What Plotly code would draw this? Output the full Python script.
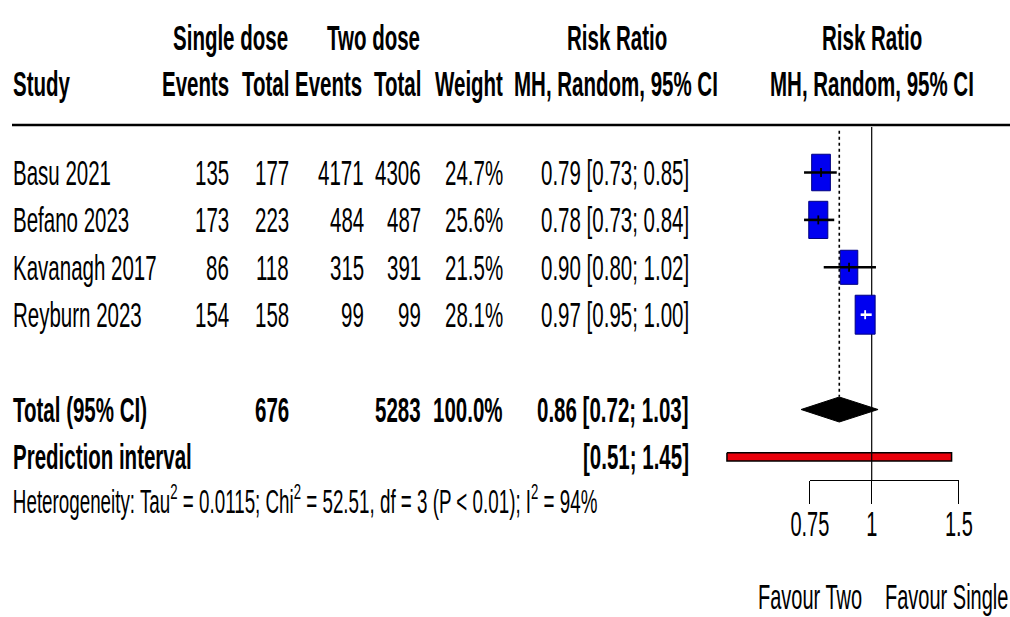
import math
import plotly.graph_objects as go

# ---------------- data ----------------
studies = ["Basu 2021", "Befano 2023", "Kavanagh 2017", "Reyburn 2023"]
single_events = [135, 173, 86, 154]
single_total = [177, 223, 118, 158]
two_events = [4171, 484, 315, 99]
two_total = [4306, 487, 391, 99]
weights = [24.7, 25.6, 21.5, 28.1]
rr = [0.79, 0.78, 0.90, 0.97]
rr_lower = [0.73, 0.73, 0.80, 0.95]
rr_upper = [0.85, 0.84, 1.02, 1.00]

total_single = 676
total_two = 5283
total_weight = 100.0
pooled_rr = 0.86
pooled_lower = 0.72
pooled_upper = 1.03
pred_lower = 0.51
pred_upper = 1.45
tau2 = "0.0115"
chi2 = "52.51"
het_df = 3
het_p = "P &lt; 0.01"
i2 = 94

tick_vals = [0.75, 1, 1.5]
tick_text = ["0.75", "1", "1.5"]
label_left = "Favour Two"
label_right = "Favour Single"

# ---------------- layout constants ----------------
W, H = 1010, 617
FONT = "Liberation Sans, Arial, Helvetica, sans-serif"
FS = 20.5
STRETCH = 1.72
ROW_PX = 47.4
ROW1_PX = 172.5
X_ONE_PX = 871.7
PX_PER_LOG10 = 495.0
BOX_KW = 3.77   # px per sqrt(weight), width
BOX_KH = 7.35   # px per sqrt(weight), height


def row_of(px):
    return 1 + (px - ROW1_PX) / ROW_PX


def xp(px):
    return px / W


yrange = [row_of(H), row_of(0)]
xrange = [-X_ONE_PX / PX_PER_LOG10, (W - X_ONE_PX) / PX_PER_LOG10]

study_rows = [1, 2, 3, 4]
total_row = 6
pred_row = 7
het_row = row_of(499)
axis_row = row_of(480)

fig = go.Figure()
shapes = []

# ---------------- forest marks ----------------
# prediction interval bar
fig.add_trace(go.Scatter(
    x=[pred_lower, pred_upper, pred_upper, pred_lower, pred_lower],
    y=[pred_row - 0.085, pred_row - 0.085, pred_row + 0.085, pred_row + 0.085, pred_row - 0.085],
    mode="lines", fill="toself", fillcolor="#e8000b",
    line=dict(color="black", width=1.5), hoverinfo="skip", showlegend=False))
# reference line at 1
fig.add_trace(go.Scatter(x=[1, 1], y=[0.04, axis_row], mode="lines",
                         line=dict(color="black", width=1.2),
                         hoverinfo="skip", showlegend=False))
# dotted pooled-estimate line
fig.add_trace(go.Scatter(x=[pooled_rr, pooled_rr], y=[0.12, total_row - 0.27], mode="lines",
                         line=dict(color="black", width=1.6, dash="dot"),
                         hoverinfo="skip", showlegend=False))

# boxes: area proportional to weight, built on the log scale
for r, w, y in zip(rr, weights, study_rows):
    half_w = BOX_KW * math.sqrt(w) / 2 / PX_PER_LOG10   # in log10 units
    half_h = BOX_KH * math.sqrt(w) / 2 / ROW_PX          # in row units
    xl, xh = r * 10 ** (-half_w), r * 10 ** half_w
    fig.add_trace(go.Scatter(
        x=[xl, xh, xh, xl, xl], y=[y - half_h, y - half_h, y + half_h, y + half_h, y - half_h],
        mode="lines", fill="toself", fillcolor="#0000f0",
        line=dict(color="#000080", width=1), hoverinfo="skip", showlegend=False))

# whiskers and centre ticks (above the boxes)
for r, lo, hi, w, y in zip(rr, rr_lower, rr_upper, weights, study_rows):
    ci_px = PX_PER_LOG10 * (math.log10(hi) - math.log10(lo))
    inside = ci_px < BOX_KW * math.sqrt(w)
    col = "white" if inside else "black"
    shapes.append(dict(type="line", xref="x", yref="y", x0=lo, x1=hi, y0=y, y1=y,
                       line=dict(color=col, width=2.6), layer="above"))
    shapes.append(dict(type="line", xref="x", yref="y",
                       ysizemode="pixel", yanchor=y, y0=-4.5, y1=4.5,
                       x0=r, x1=r, line=dict(color=col, width=1.8), layer="above"))

# diamond
dh = 12.5 / ROW_PX
fig.add_trace(go.Scatter(
    x=[pooled_lower, pooled_rr, pooled_upper, pooled_rr, pooled_lower],
    y=[total_row, total_row - dh, total_row, total_row + dh, total_row],
    mode="lines", fill="toself", fillcolor="black",
    line=dict(color="black", width=1), hoverinfo="skip", showlegend=False))

# bottom axis carrier trace
fig.add_trace(go.Scatter(x=tick_vals, y=[axis_row] * len(tick_vals), xaxis="x2", yaxis="y",
                         mode="markers", marker=dict(opacity=0),
                         hoverinfo="skip", showlegend=False))

# header rule
shapes.append(dict(type="line", xref="paper", yref="y", x0=xp(12), x1=1, y0=0, y1=0,
                   line=dict(color="black", width=2.5), layer="below"))

# ---------------- text ----------------
def txt(s, x_px, row, anchor, bold=False, size=FS):
    fig.add_annotation(text=f"<b>{s}</b>" if bold else s,
                       x=xp(x_px), xref="paper", y=row, yref="y",
                       xanchor=anchor, yanchor="middle", showarrow=False,
                       font=dict(family=FONT, size=size, color="black"))

h1 = row_of(37)
h2 = row_of(83)
txt("Single dose", 290, h1, "right", True)
txt("Two dose", 422, h1, "right", True)
txt("Risk Ratio", 617, h1, "center", True)
txt("Risk Ratio", 872, h1, "center", True)
txt("Study", 11, h2, "left", True)
txt("Events", 231, h2, "right", True)
txt("Total", 291, h2, "right", True)
txt("Events", 364, h2, "right", True)
txt("Total", 423, h2, "right", True)
txt("Weight", 505, h2, "right", True)
txt("MH, Random, 95% CI", 616, h2, "center", True)
txt("MH, Random, 95% CI", 872, h2, "center", True)

for i, y in enumerate(study_rows):
    txt(studies[i], 11, y, "left")
    txt(str(single_events[i]), 231, y, "right")
    txt(str(single_total[i]), 291, y, "right")
    txt(str(two_events[i]), 366, y, "right")
    txt(str(two_total[i]), 423, y, "right")
    txt(f"{weights[i]:.1f}%", 505, y, "right")
    txt(f"{rr[i]:.2f} [{rr_lower[i]:.2f}; {rr_upper[i]:.2f}]", 691, y, "right")

txt("Total (95% CI)", 11, total_row, "left", True)
txt(str(total_single), 291, total_row, "right", True)
txt(str(total_two), 423, total_row, "right", True)
txt(f"{total_weight:.1f}%", 505, total_row, "right", True)
txt(f"{pooled_rr:.2f} [{pooled_lower:.2f}; {pooled_upper:.2f}]", 691, total_row, "right", True)

txt("Prediction interval", 11, pred_row, "left", True)
txt(f"[{pred_lower:.2f}; {pred_upper:.2f}]", 691, pred_row, "right", True)

txt(f"Heterogeneity: Tau<sup>2</sup> = {tau2}; Chi<sup>2</sup> = {chi2}, df = {het_df} "
    f"({het_p}); I<sup>2</sup> = {i2}%", 11, het_row, "left", size=18.8)

txt(label_left, 864, row_of(597), "right", size=20)
txt(label_right, 883, row_of(597), "left", size=20)

# ---------------- layout ----------------
x2_dom = [(X_ONE_PX + PX_PER_LOG10 * math.log10(tick_vals[0])) / W,
          (X_ONE_PX + PX_PER_LOG10 * math.log10(tick_vals[-1])) / W]

fig.update_layout(
    width=W, height=H,
    margin=dict(l=0, r=0, t=0, b=0, pad=0, autoexpand=False),
    paper_bgcolor="white", plot_bgcolor="rgba(0,0,0,0)",
    showlegend=False,
    shapes=shapes,
    xaxis=dict(type="log", range=xrange, domain=[0, 1], visible=False, fixedrange=True),
    yaxis=dict(range=yrange, domain=[0, 1], visible=False, fixedrange=True),
    xaxis2=dict(type="log", range=[math.log10(tick_vals[0]), math.log10(tick_vals[-1])],
                domain=x2_dom, anchor="free", position=1 - 480 / H,
                showline=True, linecolor="black", linewidth=1.2,
                ticks="outside", ticklen=23, tickwidth=1.2, tickcolor="black",
                tickvals=tick_vals, ticktext=tick_text,
                tickfont=dict(family=FONT, size=20, color="black"),
                ticklabelstandoff=3,
                showgrid=False, zeroline=False, fixedrange=True),
)

post = """
(function(){
  document.body.style.margin = '0';
  document.body.style.overflow = 'hidden';
  var gd = document.getElementById('{plot_id}');
  if(!gd) return;
  var S = %s;
  var nodes = gd.querySelectorAll('svg text');
  for (var i = 0; i < nodes.length; i++) {
    var t = nodes[i];
    if (!t.textContent) continue;
    var b = t.getBBox();
    var cx = b.x + b.width / 2, cy = b.y + b.height / 2;
    var tr = t.getAttribute('transform') || '';
    t.setAttribute('transform', tr + ' translate(' + cx + ' ' + cy + ') scale(1 ' + S +
                   ') translate(' + (-cx) + ' ' + (-cy) + ')');
  }
})();
""" % STRETCH

fig.write_html("out.html", config=dict(displayModeBar=False), post_script=post)
